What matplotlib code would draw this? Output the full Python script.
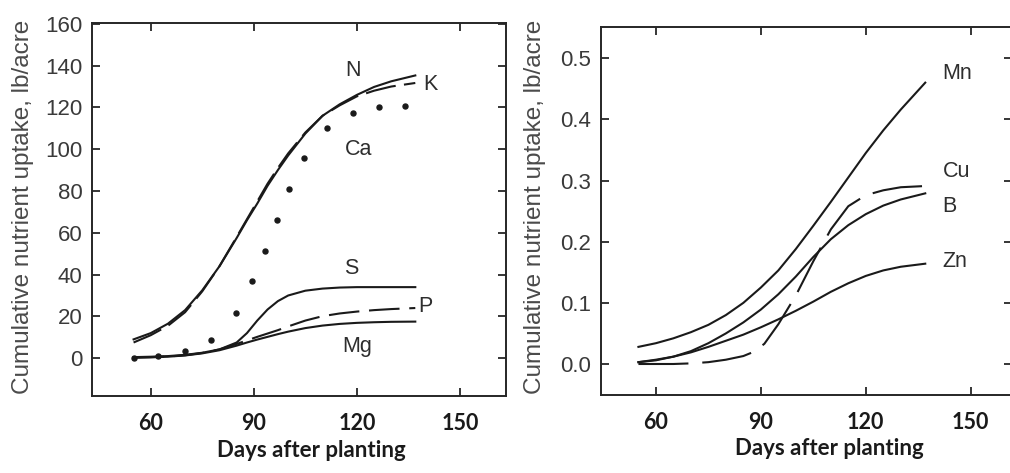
import numpy as np
import matplotlib
matplotlib.use("Agg")
import matplotlib.pyplot as plt

plt.rcParams['lines.scale_dashes'] = False

# ---- data ----
days_macro = [55, 60, 65, 70, 75, 80, 85, 88, 91, 94, 97, 100, 105, 110, 115, 120, 125, 130, 137]
n_uptake = [9, 12, 16.5, 23, 32.5, 44, 57.5, 66, 74, 82.5, 90, 97, 107.5, 116, 121.5, 126, 129.8, 132.5, 135.3]
k_uptake = [7.5, 11, 15.5, 22, 32, 44, 58, 66.5, 75, 83.5, 91, 98, 108, 116, 121, 125.3, 128, 130, 131.7]
s_uptake = [0.5, 0.7, 1.0, 1.6, 2.6, 4.2, 7.5, 12, 18, 23.3, 27.3, 30.0, 32.3, 33.3, 33.8, 34, 34, 34, 34]
p_uptake = [0.3, 0.5, 0.8, 1.4, 2.5, 4.2, 6.8, 8.5, 10.2, 11.8, 13.4, 15.2, 18.0, 20.1, 21.4, 22.3, 23, 23.5, 24]
mg_uptake = [0.2, 0.4, 0.7, 1.3, 2.3, 3.8, 6.0, 7.5, 8.9, 10.2, 11.5, 12.7, 14.4, 15.6, 16.4, 16.9, 17.2, 17.4, 17.5]

days_ca = [55, 62, 70, 77.5, 84.8, 89.6, 93.3, 96.7, 100.3, 104.6, 111.4, 119, 126.4, 134]
ca_uptake = [0.3, 1.2, 3.5, 8.8, 21.5, 36.7, 51.5, 66.2, 80.9, 95.8, 110.2, 117.3, 120.2, 120.5]

days_micro = [55, 60, 65, 70, 75, 80, 85, 90, 95, 100, 105, 110, 115, 120, 125, 130, 137]
mn_uptake = [0.028, 0.034, 0.042, 0.052, 0.064, 0.080, 0.100, 0.125, 0.153, 0.188, 0.226, 0.265, 0.305, 0.345, 0.382, 0.416, 0.460]
b_uptake = [0.003, 0.006, 0.012, 0.021, 0.034, 0.050, 0.068, 0.089, 0.114, 0.143, 0.175, 0.204, 0.227, 0.245, 0.259, 0.269, 0.279]
zn_uptake = [0.003, 0.007, 0.012, 0.019, 0.028, 0.038, 0.048, 0.060, 0.073, 0.087, 0.102, 0.118, 0.132, 0.144, 0.153, 0.159, 0.164]
days_cu = [55, 60, 65, 70, 75, 80, 85, 88, 91, 95, 100, 105, 110, 115, 120, 125, 130, 137]
cu_uptake = [0.0, 0.0, 0.0, 0.001, 0.003, 0.007, 0.013, 0.020, 0.033, 0.065, 0.112, 0.168, 0.220, 0.258, 0.276, 0.284, 0.289, 0.291]

x_ticks = [60, 90, 120, 150]
y_ticks_macro = [0, 20, 40, 60, 80, 100, 120, 140, 160]
y_ticks_micro = [0.0, 0.1, 0.2, 0.3, 0.4, 0.5]

# curve labels: (text, day, value)
macro_labels = [("N", 119, 137.5), ("K", 141.5, 131), ("Ca", 120.5, 100),
                ("S", 118.5, 43), ("P", 140, 24.7), ("Mg", 120, 5.6)]
micro_labels = [("Mn", 146, 0.475), ("Cu", 146, 0.315), ("B", 144, 0.258), ("Zn", 145.5, 0.167)]

line_col = "#1a1a1a"
text_col = "#2e2e2e"
ylab = "Cumulative nutrient uptake, lb/acre"

fig = plt.figure(figsize=(10.10, 4.73), dpi=100)
ax1 = fig.add_axes([92 / 1010, 77 / 473, 414 / 1010, 373 / 473])
ax2 = fig.add_axes([601 / 1010, 78 / 473, 411 / 1010, 368 / 473])


def style_axes(ax, yticks, fmt):
    for sp in ax.spines.values():
        sp.set_linewidth(1.4)
        sp.set_color("#262626")
    ax.set_xticks(x_ticks)
    ax.set_yticks(yticks)
    ax.set_yticklabels([fmt.format(v) for v in yticks])
    ax.tick_params(direction="in", length=6, width=1.3, top=True, right=True,
                   color="#262626")
    ax.tick_params(axis="x", pad=12)
    ax.tick_params(axis="y", pad=7)
    for lab in ax.get_yticklabels():
        lab.set_fontfamily("Liberation Sans")
        lab.set_fontsize(16)
        lab.set_color("#3a3a3a")
    for lab in ax.get_xticklabels():
        lab.set_fontfamily("Lato")
        lab.set_fontweight("bold")
        lab.set_fontsize(15.5)
        lab.set_color("#1a1a1a")


# left panel: macro nutrients
lw = 1.5
ax1.plot(days_macro, n_uptake, color=line_col, lw=lw)
ax1.plot(days_macro, k_uptake, color=line_col, lw=lw, dashes=(22, 6))
ax1.plot(days_macro, s_uptake, color=line_col, lw=lw)
ax1.plot(days_macro, p_uptake, color=line_col, lw=lw, dashes=(22, 7))
ax1.plot(days_macro, mg_uptake, color=line_col, lw=lw)
ax1.plot(days_ca, ca_uptake, "o", color=line_col, ms=3.6)
ax1.set_xlim(42.9, 163.4)
ax1.set_ylim(-18.1, 160.4)
style_axes(ax1, y_ticks_macro, "{:d}")
for t, x, y in macro_labels:
    ax1.text(x, y, t, fontsize=15.5, family="Liberation Sans", color=text_col,
             ha="center", va="center")

# right panel: micro nutrients
ax2.plot(days_micro, mn_uptake, color=line_col, lw=lw)
ax2.plot(days_micro, b_uptake, color=line_col, lw=lw)
ax2.plot(days_micro, zn_uptake, color=line_col, lw=lw)
ax2.plot(days_cu, cu_uptake, color=line_col, lw=lw, dashes=(36, 10))
ax2.set_xlim(44.3, 161.8)
ax2.set_ylim(-0.0507, 0.551)
style_axes(ax2, y_ticks_micro, "{:.1f}")
for t, x, y in micro_labels:
    ax2.text(x, y, t, fontsize=15.5, family="Liberation Sans", color=text_col,
             ha="center", va="center")

# axis titles
for xc in (23, 535):
    fig.text(xc / 1010, 1 - 207 / 473, ylab, rotation=90, ha="center", va="center",
             fontsize=17.5, family="Liberation Sans", color="#4a4a4a")
for xc, yc in ((311, 450), (829, 448)):
    fig.text(xc / 1010, 1 - yc / 473, "Days after planting", ha="center", va="center",
             fontsize=16, family="Lato", fontweight="bold", color="#1a1a1a")

fig.savefig("out.png", dpi=100)
